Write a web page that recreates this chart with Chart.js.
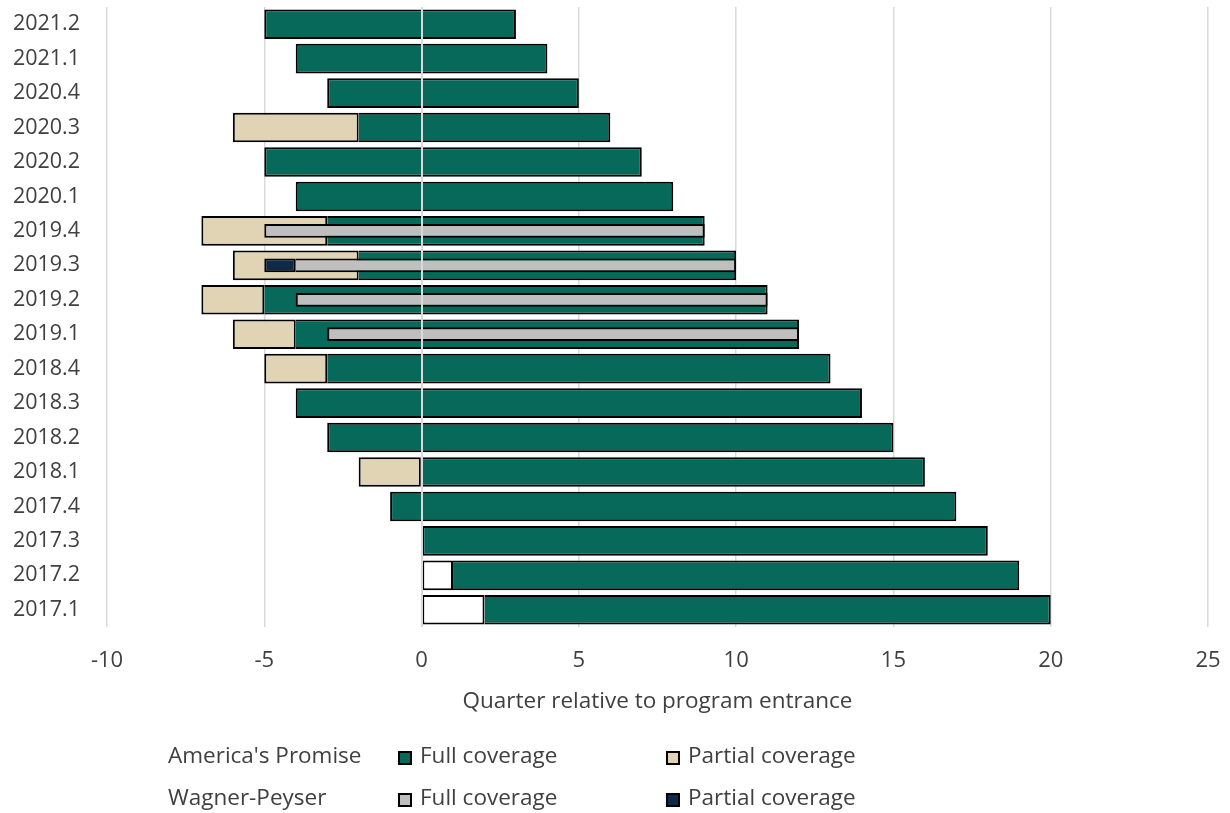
<!DOCTYPE html>
<html>
<head>
<meta charset="utf-8">
<script src="https://cdn.jsdelivr.net/npm/chart.js@4.4.1/dist/chart.umd.min.js"></script>
<style>
  html, body { margin: 0; padding: 0; background: #ffffff; }
  #wrap { position: relative; width: 1230px; height: 813px; }
</style>
</head>
<body>
<div id="wrap"><canvas id="chart"></canvas></div>
<script>
// Calendar quarters, top row first
const quarters = ['2021.2','2021.1','2020.4','2020.3','2020.2','2020.1',
                  '2019.4','2019.3','2019.2','2019.1','2018.4','2018.3',
                  '2018.2','2018.1','2017.4','2017.3','2017.2','2017.1'];

// America's Promise: full coverage span (quarters relative to entrance)
const apFullStart = [-5,-4,-3,-2,-5,-4,-3,-2,-5,-4,-3,-4,-3, 0,-1, 0, 1, 2];
const apFullEnd   = [ 3, 4, 5, 6, 7, 8, 9,10,11,12,13,14,15,16,17,18,19,20];

// America's Promise: partial coverage span
const apPartialStart = [null,null,null,-6,null,null,-7,-6,-7,-6,-5,null,null,-2,null,null,null,null];
const apPartialEnd   = [null,null,null,-2,null,null,-3,-2,-5,-4,-3,null,null, 0,null,null,null,null];

// Quarters after entrance that fall before the data window (open boxes)
const apOutsideStart = [null,null,null,null,null,null,null,null,null,null,null,null,null,null,null,null,0,0];
const apOutsideEnd   = [null,null,null,null,null,null,null,null,null,null,null,null,null,null,null,null,1,2];

// Wagner-Peyser: full coverage span
const wpFullStart = [null,null,null,null,null,null,-5,-4,-4,-3,null,null,null,null,null,null,null,null];
const wpFullEnd   = [null,null,null,null,null,null, 9,10,11,12,null,null,null,null,null,null,null,null];

// Wagner-Peyser: partial coverage span
const wpPartialStart = [null,null,null,null,null,null,null,-5,null,null,null,null,null,null,null,null,null,null];
const wpPartialEnd   = [null,null,null,null,null,null,null,-4,null,null,null,null,null,null,null,null,null,null];

// Axis range and legend text
const xTicks = [-10, -5, 0, 5, 10, 15, 20, 25];
const xTitle = 'Quarter relative to program entrance';
const programNames = ["America's Promise", 'Wagner-Peyser'];
const coverageNames = ['Full coverage', 'Partial coverage'];

const FONT = '"Open Sans", "Noto Sans", sans-serif';
const TEXT = '#404040';
const GREEN = '#07695a';
const TAN = '#e0d4b4';
const GREY = '#bfbfbf';
const NAVY = '#0e2a4b';

function spans(starts, ends) {
  return quarters.map((q, i) => starts[i] == null ? null : [starts[i], ends[i]]);
}

// Segments that continue an earlier segment share its dividing border
function borders(starts, earlierEnds) {
  return ctx => {
    const i = ctx.dataIndex;
    const joined = earlierEnds.some(arr => arr[i] != null && arr[i] === starts[i]);
    return { top: 2, bottom: 2, right: 2, left: joined ? 0 : 2 };
  };
}

const AP_PCT = 0.86;
const WP_PCT = 0.40;

const datasets = [
  {
    label: 'AP outside window', data: spans(apOutsideStart, apOutsideEnd),
    backgroundColor: '#ffffff', barPercentage: AP_PCT, order: 1,
    borderWidth: borders(apOutsideStart, [])
  },
  {
    label: programNames[0] + ' ' + coverageNames[1], data: spans(apPartialStart, apPartialEnd),
    backgroundColor: TAN, barPercentage: AP_PCT, order: 1,
    borderWidth: borders(apPartialStart, [])
  },
  {
    label: programNames[0] + ' ' + coverageNames[0], data: spans(apFullStart, apFullEnd),
    backgroundColor: GREEN, barPercentage: AP_PCT, order: 1,
    borderWidth: borders(apFullStart, [apPartialEnd, apOutsideEnd])
  },
  {
    label: programNames[1] + ' ' + coverageNames[1], data: spans(wpPartialStart, wpPartialEnd),
    backgroundColor: NAVY, barPercentage: WP_PCT, order: 0,
    borderWidth: borders(wpPartialStart, [])
  },
  {
    label: programNames[1] + ' ' + coverageNames[0], data: spans(wpFullStart, wpFullEnd),
    backgroundColor: GREY, barPercentage: WP_PCT, order: 0,
    borderWidth: borders(wpFullStart, [wpPartialEnd])
  }
].map(d => Object.assign({
  borderColor: '#000000', borderSkipped: false, grouped: false,
  categoryPercentage: 1.0
}, d));

// Zero reference line drawn over the bars
const zeroLine = {
  id: 'zeroLine',
  afterDatasetsDraw(chart) {
    const { ctx, chartArea } = chart;
    const x = Math.round(chart.scales.x.getPixelForValue(0));
    ctx.save();
    ctx.strokeStyle = '#d9d9d9';
    ctx.lineWidth = 2;
    ctx.beginPath();
    ctx.moveTo(x, chartArea.top);
    ctx.lineTo(x, chartArea.bottom);
    ctx.stroke();
    ctx.restore();
  }
};

// Two-row legend: program name, then full / partial swatches
const programLegend = {
  id: 'programLegend',
  afterDraw(chart) {
    const { ctx } = chart;
    const rows = [
      { name: programNames[0], colors: [GREEN, TAN], y: 757 },
      { name: programNames[1], colors: [GREY, NAVY], y: 799 }
    ];
    const cols = [398, 666];
    ctx.save();
    ctx.font = '22.5px ' + FONT;
    ctx.textBaseline = 'middle';
    ctx.textAlign = 'left';
    rows.forEach(r => {
      ctx.fillStyle = TEXT;
      ctx.fillText(r.name, 168, r.y);
      cols.forEach((cx, k) => {
        ctx.fillStyle = r.colors[k];
        ctx.fillRect(cx, r.y - 6, 14, 14);
        ctx.strokeStyle = '#000000';
        ctx.lineWidth = 2;
        ctx.strokeRect(cx + 1, r.y - 5, 12, 12);
        ctx.fillStyle = TEXT;
        ctx.fillText(coverageNames[k], cx + 22, r.y);
      });
    });
    ctx.restore();
  }
};

new Chart(document.getElementById('chart'), {
  type: 'bar',
  data: { labels: quarters, datasets },
  options: {
    indexAxis: 'y',
    responsive: true,
    maintainAspectRatio: false,
    animation: false,
    devicePixelRatio: 1,
    layout: { padding: { left: 0, top: 7, right: 22, bottom: 98 } },
    plugins: { legend: { display: false }, tooltip: { enabled: false } },
    scales: {
      x: {
        type: 'linear',
        min: xTicks[0],
        max: xTicks[xTicks.length - 1],
        afterBuildTicks: scale => { scale.ticks = xTicks.map(v => ({ value: v })); },
        grid: { color: '#d9d9d9', lineWidth: 1.5, drawTicks: false },
        border: { display: false },
        ticks: { color: TEXT, font: { family: FONT, size: 22 }, padding: 21 },
        title: {
          display: true, text: xTitle, color: TEXT,
          font: { family: FONT, size: 22.5 }, padding: { top: 12, bottom: 0 }
        },
        afterFit: scale => {
          scale.height = 88;
          scale.paddingLeft = 0;
          scale.paddingRight = 0;
        }
      },
      y: {
        type: 'category',
        offset: true,
        grid: { display: false, drawTicks: false },
        border: { display: false },
        ticks: { color: TEXT, font: { family: FONT, size: 21.5 }, padding: 27 },
        afterFit: scale => {
          scale.width = 107;
          scale.paddingTop = 0;
          scale.paddingBottom = 0;
        }
      }
    }
  },
  plugins: [zeroLine, programLegend]
});
</script>
</body>
</html>
